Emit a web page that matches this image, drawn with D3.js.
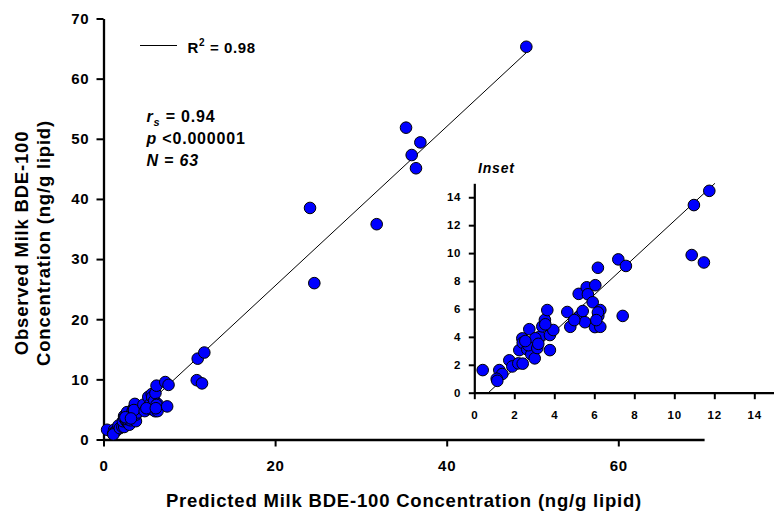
<!DOCTYPE html>
<html><head><meta charset="utf-8">
<script src="https://cdn.jsdelivr.net/npm/d3@7"></script>
<style>
body{margin:0;background:#fff;}
svg text{font-family:Arial,"Liberation Sans",Helvetica,sans-serif;font-weight:bold;fill:#000;}
</style></head><body>
<svg id="chart" width="774" height="514"></svg>
<script>
// ---- data ----
const predicted = [0.42,1.25,1.40,1.12,1.15,1.75,1.90,2.20,2.42,2.25,2.40,2.42,2.75,2.65,2.85,3.02,2.95,2.70,3.15,3.28,3.05,3.40,3.53,3.65,3.78,3.78,3.95,3.55,2.55,4.65,4.80,5.22,5.25,5.42,5.53,5.62,5.68,5.92,6.05,6.18,6.03,6.20,6.30,6.18,6.30,7.20,7.58,7.42,10.87,11.48,10.98,11.75,5.00,6.10,3.20,
  24.07,24.57,31.84,35.26,35.92,36.42,36.93,49.28];
const observed  = [1.62,1.62,1.34,1.00,0.85,2.32,1.88,2.10,2.08,3.05,3.89,3.58,4.55,3.10,2.75,2.46,3.65,3.40,3.20,4.02,3.90,4.75,5.22,5.92,3.05,4.13,4.49,4.90,3.70,5.78,4.72,7.08,5.45,5.85,5.05,7.55,7.05,6.48,7.70,8.95,4.70,5.50,5.92,5.75,4.72,9.55,9.08,5.50,9.86,9.33,13.44,14.46,5.20,5.20,3.50,
  38.5,26.0,35.8,51.85,47.3,45.1,49.4,65.3];
const mainXTicks = [0,20,40,60];
const mainYTicks = [0,10,20,30,40,50,60,70];
const insetTicks = [0,2,4,6,8,10,12,14];
const fitSlope = 1.324, fitIntercept = -0.93;
const fitStartX = 0.7, fitEndXMain = 49.3, insetMaxY = 15;
const legendLabel = "R", legendSup = "2", legendValue = " = 0.98";
const xTitle = "Predicted Milk BDE-100 Concentration (ng/g lipid)";
const yTitleLines = ["Observed Milk BDE-100", "Concentration (ng/g lipid)"];
const insetTitle = "Inset";

const points = predicted.map((p,i)=>({x:p, y:observed[i]}));
const svg = d3.select("#chart");

// ---- main plot ----
const x = d3.scaleLinear().domain([0,70]).range([103.5,704.1]);
const y = d3.scaleLinear().domain([0,70]).range([439.5,18.5]);

function styleAxis(g, fs, dw, tw){
  g.select(".domain").attr("stroke","#000").attr("stroke-width",dw);
  g.selectAll(".tick line").attr("stroke","#000").attr("stroke-width",tw);
  g.selectAll(".tick text").style("font-size",fs+"px").style("letter-spacing","0.8px")
    .style("font-family","Arial, 'Liberation Sans', sans-serif").style("font-weight","bold").attr("fill","#000");
}

const gx = svg.append("g").attr("transform",`translate(0,${y(0)})`)
  .call(d3.axisBottom(x).tickValues(mainXTicks).tickFormat(d3.format("d")).tickSize(7).tickPadding(13.5).tickSizeOuter(0));
styleAxis(gx,15,2.3,2);
const gy = svg.append("g").attr("transform",`translate(${x(0)},0)`)
  .call(d3.axisLeft(y).tickValues(mainYTicks).tickFormat(d3.format("d")).tickSize(7).tickPadding(7).tickSizeOuter(0));
styleAxis(gy,15,2.3,2);

svg.append("line")
  .attr("x1",x(fitStartX)).attr("y1",y(fitSlope*fitStartX+fitIntercept))
  .attr("x2",x(fitEndXMain)).attr("y2",y(fitSlope*fitEndXMain+fitIntercept))
  .attr("stroke","#000").attr("stroke-width",1);

svg.append("g").selectAll("circle").data(points).join("circle")
  .attr("cx",d=>x(d.x)).attr("cy",d=>y(d.y)).attr("r",5.8)
  .attr("fill","#0000ff").attr("stroke","#000").attr("stroke-width",1);

// legend
svg.append("line").attr("x1",140).attr("x2",177).attr("y1",45.5).attr("y2",45.5)
  .attr("stroke","#000").attr("stroke-width",1);
const lt = svg.append("text").attr("x",187.5).attr("y",53.3).style("font-size","15px").style("letter-spacing","0.6px");
lt.append("tspan").text(legendLabel);
lt.append("tspan").attr("dy",-7).style("font-size","10px").text(legendSup);
lt.append("tspan").attr("dy",7).text(legendValue);

// stats
const st = svg.append("g").style("font-size","16px").style("letter-spacing","0.8px");
const t1 = st.append("text").attr("x",146.5).attr("y",121.7);
t1.append("tspan").style("font-style","italic").text("r");
t1.append("tspan").style("font-style","italic").style("font-size","11px").attr("dy",4).text("s");
t1.append("tspan").attr("dy",-4).text(" = 0.94");
const t2 = st.append("text").attr("x",146.5).attr("y",144);
t2.append("tspan").style("font-style","italic").text("p");
t2.append("tspan").text(" <0.000001");
st.append("text").attr("x",146.5).attr("y",165.7).style("font-style","italic").text("N = 63");

// axis titles
svg.append("text").attr("x",404).attr("y",506.5).attr("text-anchor","middle")
  .style("font-size","18.5px").style("letter-spacing","0.8px").text(xTitle);
yTitleLines.forEach((t,i)=>{
  svg.append("text").attr("transform",`translate(${28+i*21.5},243) rotate(-90)`)
    .attr("text-anchor","middle").style("font-size","18.5px").style("letter-spacing","0.8px").text(t);
});

// ---- inset ----
const xi = d3.scaleLinear().domain([0,15]).range([474.3,774.3]);
const yi = d3.scaleLinear().domain([0,15]).range([392.7,183.3]);
const gxi = svg.append("g").attr("transform",`translate(0,${yi(0)})`)
  .call(d3.axisBottom(xi).tickValues(insetTicks).tickFormat(d3.format("d")).tickSize(6.5).tickPadding(12).tickSizeOuter(0));
styleAxis(gxi,11.5,2.2,2);
const gyi = svg.append("g").attr("transform",`translate(${xi(0)},0)`)
  .call(d3.axisLeft(yi).tickValues(insetTicks).tickFormat(d3.format("d")).tickSize(5.5).tickPadding(7.5).tickSizeOuter(0));
styleAxis(gyi,11.5,2.2,2);

const insetEndX = (insetMaxY - fitIntercept)/fitSlope;
svg.append("line")
  .attr("x1",xi(fitStartX)).attr("y1",yi(fitSlope*fitStartX+fitIntercept))
  .attr("x2",xi(insetEndX)).attr("y2",yi(insetMaxY))
  .attr("stroke","#000").attr("stroke-width",1);

svg.append("g").selectAll("circle").data(points.filter(d=>d.x<=15 && d.y<=15)).join("circle")
  .attr("cx",d=>xi(d.x)).attr("cy",d=>yi(d.y)).attr("r",5.8)
  .attr("fill","#0000ff").attr("stroke","#000").attr("stroke-width",1);

svg.append("text").attr("x",478).attr("y",173).style("font-size","14px").style("font-style","italic")
  .style("letter-spacing","0.8px").text(insetTitle);
</script>
</body></html>
